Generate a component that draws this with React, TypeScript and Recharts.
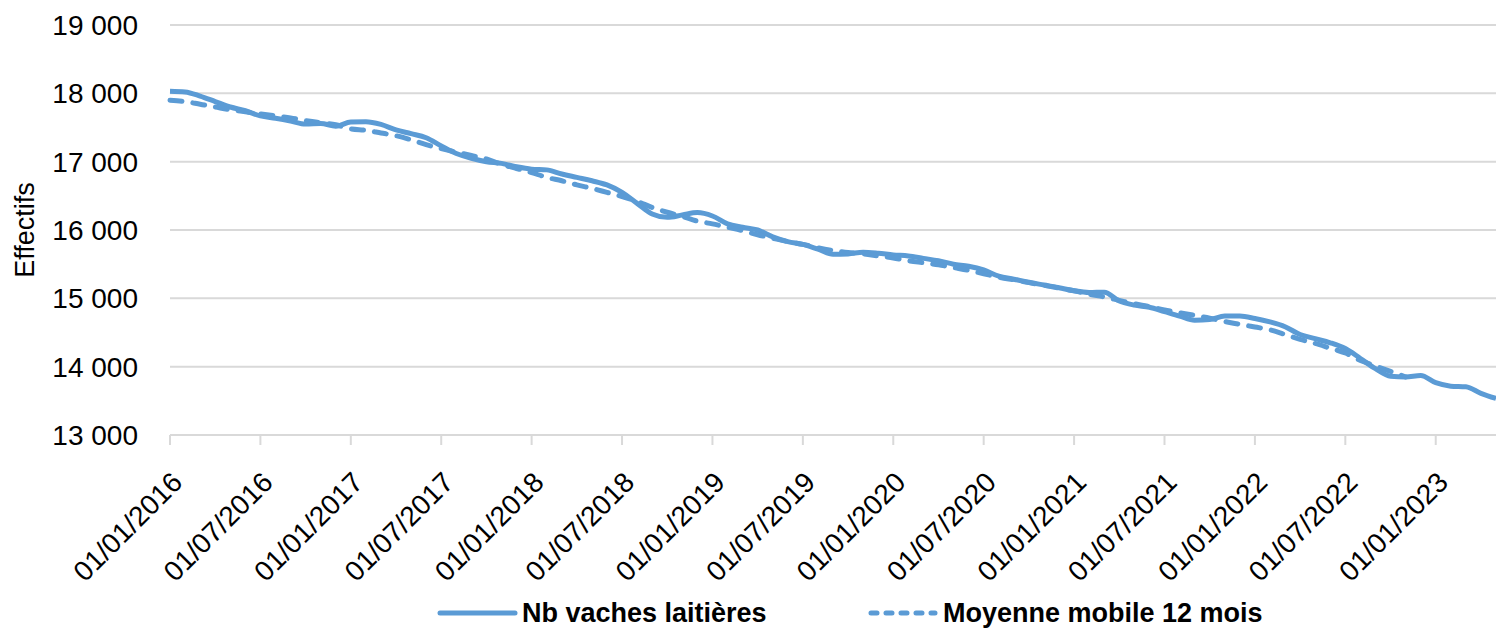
import { CartesianGrid, Legend, Line, LineChart, XAxis, YAxis } from "recharts";

const BLUE = "#5B9BD5";
const GRID = "#d9d9d9";
const FONT = "'Liberation Sans', Arial, sans-serif";

// Nb de vaches laitières, mensuel de 01/2016 à 05/2023
const vaches = [
  18030, 18020, 17960, 17880, 17800, 17745, 17670, 17635, 17595, 17550, 17560, 17520,
  17580, 17585, 17545, 17465, 17410, 17350, 17230, 17120, 17050, 17000, 16975, 16925,
  16890, 16880, 16820, 16770, 16720, 16660, 16550, 16390, 16235, 16185, 16220, 16255,
  16205, 16090, 16040, 16000, 15900, 15830, 15790, 15720, 15645, 15650, 15675, 15660,
  15635, 15620, 15585, 15550, 15500, 15470, 15415, 15325, 15280, 15235, 15195, 15155,
  15110, 15085, 15090, 14960, 14900, 14870, 14805, 14740, 14680, 14690, 14740, 14740,
  14705, 14655, 14585, 14470, 14410, 14350, 14265, 14120, 13970, 13860, 13850, 13870,
  13765, 13715, 13705, 13610, 13535,
];

// Moyenne mobile 12 mois (s'arrête avant la fin de la série)
const moyenne = [
  17900, 17880, 17840, 17800, 17760, 17730, 17700, 17670, 17640, 17600, 17570, 17540,
  17480, 17460, 17420, 17380, 17320, 17250, 17190, 17140, 17090, 17040, 16960, 16900,
  16840, 16770, 16720, 16660, 16610, 16550, 16490, 16420, 16330, 16260, 16200, 16130,
  16090, 16040, 15990, 15930, 15880, 15830, 15790, 15740, 15700, 15670, 15650, 15620,
  15590, 15550, 15520, 15490, 15450, 15410, 15360, 15310, 15270, 15230, 15190, 15150,
  15110, 15060, 15020, 14970, 14920, 14880, 14830, 14790, 14750, 14710, 14660, 14620,
  14580, 14540, 14470, 14400, 14340, 14270, 14200, 14090, 14010, 13930, 13850,
];

const yTicks = [13000, 14000, 15000, 16000, 17000, 18000, 19000];

const START_YEAR = 2016;
const months = vaches.map((_, i) => {
  const y = START_YEAR + Math.floor(i / 12);
  const m = (i % 12) + 1;
  return `01/${String(m).padStart(2, "0")}/${y}`;
});

const data = months.map((date, i) => ({
  date,
  vaches: vaches[i],
  moyenne: i < moyenne.length ? moyenne[i] : undefined,
}));

const fmt = (v: number) => {
  const s = String(v);
  return s.slice(0, s.length - 3) + " " + s.slice(-3);
};

function DateTick(props: any) {
  const { x, y, payload } = props;
  const px = x + 14;
  const py = y + 37;
  return (
    <text
      x={px}
      y={py}
      transform={`rotate(-45 ${px} ${py})`}
      textAnchor="end"
      fontSize={28}
      fontFamily={FONT}
      fill="#000"
    >
      {payload.value}
    </text>
  );
}

function LegendBox() {
  return (
    <svg width={1496} height={30} style={{ display: "block" }}>
      <line x1={440} x2={515} y1={15} y2={15} stroke={BLUE} strokeWidth={5} strokeLinecap="round" />
      <text x={522} y={15} dominantBaseline="central" fontSize={27} fontWeight="bold" fontFamily={FONT} fill="#000">
        Nb vaches laitières
      </text>
      <line
        x1={871}
        x2={935}
        y1={15}
        y2={15}
        stroke={BLUE}
        strokeWidth={5}
        strokeLinecap="round"
        strokeDasharray="6 9"
      />
      <text x={943} y={15} dominantBaseline="central" fontSize={27} fontWeight="bold" fontFamily={FONT} fill="#000">
        Moyenne mobile 12 mois
      </text>
    </svg>
  );
}

export default function App() {
  return (
    <div style={{ position: "absolute", left: 0, top: 0, width: 1496, height: 628, background: "#fff" }}>
      <LineChart width={1496} height={628} data={data} margin={{ top: 25, right: 0, left: 0, bottom: 0 }}>
        <CartesianGrid vertical={false} stroke={GRID} strokeWidth={2} />
        <XAxis
          dataKey="date"
          interval={5}
          height={163}
          stroke={GRID}
          strokeWidth={2}
          tickSize={10}
          tick={<DateTick />}
        />
        <YAxis
          domain={[13000, 19000]}
          ticks={yTicks}
          width={170}
          axisLine={false}
          tickLine={false}
          tickMargin={26}
          tickFormatter={fmt}
          tick={{ fontSize: 28, fontFamily: FONT, fill: "#000" }}
          label={{
            content: (p: any) => {
              const vb = p.viewBox || { x: 0, y: 25, height: 410 };
              const cx = vb.x + 25;
              const cy = vb.y + vb.height / 2;
              return (
                <text
                  x={cx}
                  y={cy}
                  transform={`rotate(-90 ${cx} ${cy})`}
                  textAnchor="middle"
                  dominantBaseline="central"
                  fontSize={27}
                  fontFamily={FONT}
                  fill="#000"
                >
                  Effectifs
                </text>
              );
            },
          }}
        />
        <Legend
          verticalAlign="bottom"
          content={() => <LegendBox />}
          wrapperStyle={{ left: 0, bottom: 0, width: 1496, height: 30 }}
        />
        <Line
          type="monotone"
          dataKey="vaches"
          stroke={BLUE}
          strokeWidth={5}
          dot={false}
          isAnimationActive={false}
        />
        <Line
          type="monotone"
          dataKey="moyenne"
          stroke={BLUE}
          strokeWidth={5}
          strokeDasharray="12 11"
          strokeLinecap="round"
          dot={false}
          isAnimationActive={false}
        />
      </LineChart>
    </div>
  );
}
